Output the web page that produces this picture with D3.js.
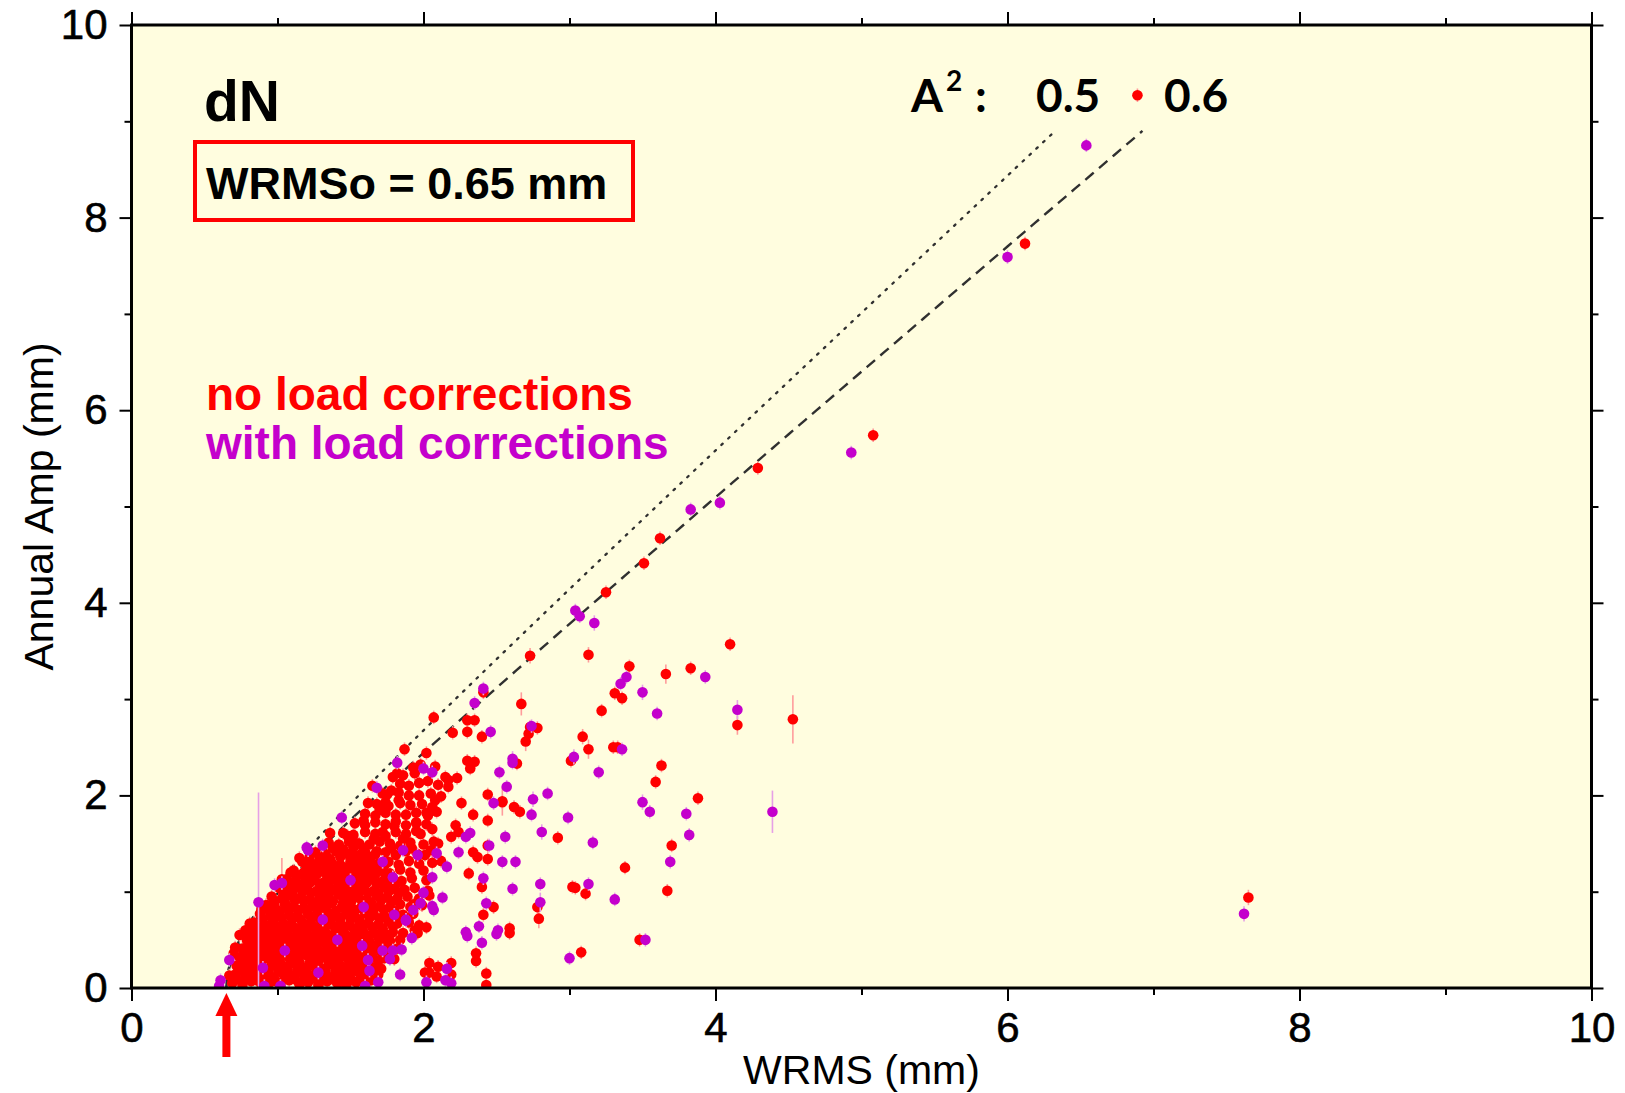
<!DOCTYPE html>
<html>
<head>
<meta charset="utf-8">
<script src="https://cdn.jsdelivr.net/npm/d3@7"></script>
<style>
  body { margin: 0; background: #fff; }
  svg { display: block; }
  .tick text { font-family: "Liberation Sans", Arial, sans-serif; }
</style>
</head>
<body>
<div id="chart"></div>
<script>
// Axis ticks
var majorTicks = [0, 2, 4, 6, 8, 10];
var minorTicks = [1, 3, 5, 7, 9];

// Model curves  WRMS^2 = WRMSo^2 + A^2 * Amp^2
var wrms0 = 0.65;
var a2Values = [0.5, 0.6];
var curveTopAmp = 8.9;

// [WRMS, annual amp, error] (error omitted = small)
var noLoad = [
  [6.89,9.27],[6.12,7.73],[5.08,5.74],[4.29,5.40],[3.62,4.67],[3.51,4.41],[3.25,4.11],
  [2.73,3.45,0.08],[3.13,3.46,0.08],[4.10,3.57],[3.41,3.34],[3.31,3.06],[3.36,3.01],
  [3.66,3.26,0.1],[3.83,3.32],[3.22,2.88],[2.67,2.95,0.12],[4.15,2.73,0.1],[4.53,2.79,0.25],
  [2.78,2.70],[2.72,2.64],[2.70,2.56,0.1],[3.09,2.61,0.08],[3.13,2.48,0.1],[3.30,2.50],[3.33,2.50],
  [3.01,2.36],[2.64,2.33],[3.63,2.31],[3.59,2.14],[2.54,1.94,0.15],[2.62,1.88],[2.66,1.83],
  [2.92,1.56],[3.88,1.97],[3.70,1.48],[3.38,1.25],[3.67,1.01],[2.79,0.72,0.1],[3.04,1.04],[3.11,0.98],
  [3.48,0.50],[2.59,0.62],[3.08,0.37],[7.65,0.94,0.08],[2.41,3.07],[2.07,2.81],[2.73,2.71],
  [2.30,2.78],[2.35,2.78],[2.20,2.65],[2.30,2.66],[2.40,2.61],[1.87,2.48],[2.02,2.44],
  [2.30,2.36],[2.35,2.35],[2.32,2.28],[2.15,2.19],[2.17,2.16],[2.23,2.18],[2.17,2.09],
  [1.93,2.29],[1.94,2.23],[1.82,2.23],[1.79,2.19],[1.86,2.21],[2.44,2.01],[2.54,1.93],
  [2.34,1.80],[2.26,1.92],[2.44,1.74],[2.22,1.69],[2.24,1.62],[2.19,1.57],[2.44,1.48],
  [2.34,1.41],[2.37,1.36],[2.44,1.34],[2.31,1.19],[2.40,1.05],[2.48,0.84],[2.41,0.76],
  [2.36,0.36],[2.43,0.15],[2.10,0.22],[2.04,0.26],[2.04,0.16],[2.19,0.26],[2.78,0.84],
  [3.02,1.05],[2.36,0.28],[2.59,0.57],[2.01,0.16],[2.09,0.12],[2.43,0.03],[2.19,0.14],
  [1.96,0.57],[2.02,0.63],[1.93,0.87],
  [1.62,1.92],[1.72,2.02],[1.74,1.93],[1.59,1.74],[1.36,1.61],[1.22,1.36],[1.15,1.35],
  [1.09,1.20],[1.03,1.13,0.22],[0.93,0.86],[0.89,0.82],[0.81,0.67],[0.78,0.60],[0.74,0.55],
  [0.71,0.42],[0.70,0.36],[0.67,0.13],
  [1.65,2.10],[1.70,1.85],[1.78,2.05],[1.83,1.95],[1.90,2.10],[1.97,2.00],[2.03,2.15],
  [2.08,1.95],[1.88,1.80],[1.95,1.72],[2.02,1.82],[1.80,1.68],[1.72,1.62],[1.66,1.55],
  [1.86,1.55],[1.98,1.60],[2.06,1.65],[2.10,1.50],[1.92,1.45],[1.78,1.45],[2.01,1.38],
  [2.12,1.32],[1.68,1.42],[1.55,1.50],[1.48,1.58],[1.45,1.42],[1.58,1.40],
  // upper part of the cloud
  [1.45,1.61],[1.52,1.59],[1.60,1.62],[1.67,1.60],[1.74,1.58],[1.81,1.62],[1.88,1.60],[1.95,1.63],
  [1.53,1.71],[1.60,1.69],[1.67,1.72],[1.74,1.70],[1.81,1.73],[1.88,1.69],[1.95,1.71],[2.02,1.70],
  [1.60,1.81],[1.67,1.79],[1.74,1.82],[1.81,1.80],[1.95,1.82],[2.03,1.79],[2.09,1.83],
  [1.68,1.91],[1.76,1.89],[1.84,1.92],[1.91,1.90],[1.99,1.91],[2.06,1.88],
  [1.75,2.01],[1.83,2.03],[1.90,2.00],[2.05,2.02],[2.12,1.99],
  [1.84,2.12],[1.97,2.13],[2.10,2.11],[1.98,2.32],[2.08,2.30],
  [1.67,1.39],[1.74,1.41],[1.81,1.38],[1.88,1.42],[1.96,1.39],[2.05,1.43],
  [1.63,1.49],[1.70,1.52],[1.77,1.50],[1.84,1.48],[1.91,1.51],[2.00,1.49],[2.07,1.52],
  [1.76,1.31],[1.83,1.28],[1.90,1.32],[1.97,1.29],[2.06,1.30],
  [1.84,1.23],[1.91,1.20],[2.00,1.22],[1.85,1.11],[1.92,1.14],[2.02,1.12],
  [1.94,1.04],[2.03,1.01],[1.89,0.95],[1.97,0.93],[2.04,0.96],[1.91,0.84],[1.99,0.86],
  [1.93,0.77],[1.90,0.68],[1.97,0.65],[1.86,0.57],[1.94,0.60],[1.84,0.50],[1.82,0.41],[1.80,0.30],
  // dense cloud
  [0.69,0.05],[0.76,0.03],[0.82,0.07],[0.89,0.04],[0.95,0.06],[1.02,0.03],[1.08,0.08],[1.15,0.04],
  [1.21,0.06],[1.28,0.03],[1.34,0.07],[1.41,0.05],[1.47,0.03],[1.54,0.06],[1.60,0.04],
  [0.71,0.14],[0.78,0.12],[0.84,0.16],[0.91,0.13],[0.97,0.11],[1.04,0.15],[1.10,0.13],[1.17,0.16],
  [1.23,0.12],[1.30,0.14],[1.36,0.11],[1.43,0.15],[1.49,0.13],[1.56,0.16],[1.62,0.12],[1.69,0.14],
  [0.72,0.23],[0.79,0.21],[0.86,0.24],[0.92,0.20],[0.99,0.23],[1.05,0.22],[1.12,0.25],[1.18,0.21],
  [1.25,0.23],[1.31,0.20],[1.38,0.24],[1.44,0.22],[1.51,0.21],[1.57,0.25],[1.64,0.22],[1.71,0.20],
  [0.74,0.32],[0.81,0.30],[0.87,0.33],[0.94,0.31],[1.00,0.29],[1.07,0.33],[1.13,0.31],[1.20,0.34],
  [1.26,0.30],[1.33,0.32],[1.39,0.29],[1.46,0.33],[1.52,0.31],[1.59,0.30],[1.65,0.33],[1.73,0.31],
  [0.76,0.41],[0.83,0.39],[0.89,0.42],[0.96,0.40],[1.02,0.38],[1.09,0.41],[1.15,0.40],[1.22,0.43],
  [1.28,0.39],[1.35,0.41],[1.41,0.38],[1.48,0.42],[1.54,0.40],[1.61,0.39],[1.67,0.42],[1.75,0.40],
  [0.79,0.50],[0.85,0.48],[0.92,0.51],[0.98,0.49],[1.05,0.47],[1.11,0.50],[1.18,0.49],[1.24,0.52],
  [1.31,0.48],[1.37,0.50],[1.44,0.47],[1.50,0.51],[1.57,0.49],[1.63,0.48],[1.70,0.51],[1.77,0.49],
  [0.81,0.59],[0.88,0.57],[0.94,0.60],[1.01,0.58],[1.07,0.56],[1.14,0.59],[1.20,0.58],[1.27,0.61],
  [1.33,0.57],[1.40,0.59],[1.46,0.56],[1.53,0.60],[1.59,0.58],[1.66,0.57],[1.72,0.60],[1.79,0.58],
  [0.84,0.68],[0.91,0.66],[0.97,0.69],[1.04,0.67],[1.10,0.65],[1.17,0.68],[1.23,0.67],[1.30,0.70],
  [1.36,0.66],[1.43,0.68],[1.49,0.65],[1.56,0.69],[1.62,0.67],[1.69,0.66],[1.76,0.69],[1.82,0.67],
  [0.88,0.77],[0.95,0.75],[1.01,0.78],[1.08,0.76],[1.14,0.74],[1.21,0.77],[1.27,0.76],[1.34,0.79],
  [1.40,0.75],[1.47,0.77],[1.53,0.74],[1.60,0.78],[1.66,0.76],[1.73,0.75],[1.80,0.78],[1.86,0.76],
  [0.92,0.86],[0.98,0.84],[1.05,0.87],[1.11,0.85],[1.18,0.83],[1.24,0.86],[1.31,0.85],[1.37,0.88],
  [1.44,0.84],[1.50,0.86],[1.57,0.83],[1.63,0.87],[1.70,0.85],[1.77,0.84],[1.84,0.87],
  [0.96,0.95],[1.03,0.93],[1.09,0.96],[1.16,0.94],[1.22,0.92],[1.29,0.95],[1.35,0.94],[1.42,0.97],
  [1.48,0.93],[1.55,0.95],[1.61,0.92],[1.68,0.96],[1.75,0.94],[1.82,0.93],
  [1.01,1.04],[1.07,1.02],[1.14,1.05],[1.20,1.03],[1.27,1.01],[1.33,1.04],[1.40,1.03],[1.46,1.06],
  [1.53,1.02],[1.59,1.04],[1.66,1.01],[1.73,1.05],[1.80,1.03],[1.87,1.02],
  [1.06,1.13],[1.12,1.11],[1.19,1.14],[1.25,1.12],[1.32,1.10],[1.38,1.13],[1.45,1.12],[1.51,1.15],
  [1.58,1.11],[1.64,1.13],[1.71,1.10],[1.78,1.14],
  [1.11,1.22],[1.18,1.20],[1.24,1.23],[1.31,1.21],[1.37,1.19],[1.44,1.22],[1.50,1.21],[1.57,1.24],
  [1.63,1.20],[1.70,1.22],[1.77,1.19],
  [1.17,1.31],[1.24,1.29],[1.30,1.32],[1.37,1.30],[1.43,1.28],[1.50,1.31],[1.56,1.30],[1.63,1.33],[1.69,1.29],
  [1.26,1.41],[1.33,1.39],[1.40,1.42],[1.47,1.40],[1.53,1.38],[1.60,1.41],
  [1.35,1.51],[1.42,1.49],[1.49,1.52],[1.56,1.50],
  // dense cloud, in-between
  [0.72,0.09],[0.79,0.10],[0.86,0.08],[0.92,0.09],[0.99,0.07],[1.05,0.10],[1.12,0.09],[1.18,0.08],
  [1.25,0.10],[1.31,0.08],[1.38,0.09],[1.44,0.10],[1.51,0.08],[1.57,0.09],[1.64,0.08],
  [0.75,0.18],[0.81,0.17],[0.88,0.19],[0.94,0.18],[1.01,0.17],[1.07,0.19],[1.14,0.18],[1.20,0.17],
  [1.27,0.19],[1.33,0.18],[1.40,0.17],[1.46,0.19],[1.53,0.18],[1.59,0.17],[1.66,0.19],
  [0.76,0.27],[0.83,0.26],[0.89,0.28],[0.96,0.27],[1.02,0.26],[1.09,0.28],[1.15,0.27],[1.22,0.26],
  [1.28,0.28],[1.35,0.27],[1.42,0.26],[1.49,0.28],[1.55,0.27],[1.62,0.26],[1.69,0.28],
  [0.78,0.36],[0.85,0.35],[0.91,0.37],[0.98,0.36],[1.04,0.35],[1.11,0.37],[1.17,0.36],[1.24,0.35],
  [1.30,0.37],[1.37,0.36],[1.44,0.35],[1.50,0.37],[1.57,0.36],[1.64,0.35],[1.71,0.37],
  [0.80,0.45],[0.87,0.44],[0.93,0.46],[1.00,0.45],[1.06,0.44],[1.13,0.46],[1.19,0.45],[1.26,0.44],
  [1.33,0.46],[1.40,0.45],[1.46,0.44],[1.53,0.46],[1.60,0.45],[1.66,0.44],[1.73,0.46],
  [0.83,0.54],[0.90,0.53],[0.96,0.55],[1.03,0.54],[1.09,0.53],[1.16,0.55],[1.22,0.54],[1.29,0.53],
  [1.35,0.55],[1.42,0.54],[1.49,0.53],[1.55,0.55],[1.62,0.54],[1.69,0.53],[1.75,0.55],
  [0.86,0.63],[0.93,0.62],[0.99,0.64],[1.06,0.63],[1.12,0.62],[1.19,0.64],[1.25,0.63],[1.32,0.62],
  [1.39,0.64],[1.45,0.63],[1.52,0.62],[1.58,0.64],[1.65,0.63],[1.72,0.62],[1.79,0.64],
  [0.90,0.72],[0.97,0.71],[1.03,0.73],[1.10,0.72],[1.16,0.71],[1.23,0.73],[1.29,0.72],[1.36,0.71],
  [1.43,0.73],[1.50,0.72],[1.56,0.71],[1.63,0.73],[1.70,0.72],[1.76,0.71],[1.83,0.73],
  [0.94,0.81],[1.01,0.80],[1.07,0.82],[1.14,0.81],[1.20,0.80],[1.27,0.82],[1.33,0.81],[1.40,0.80],
  [1.47,0.82],[1.53,0.81],[1.60,0.80],[1.66,0.82],[1.73,0.81],[1.80,0.80],
  [0.98,0.90],[1.05,0.89],[1.12,0.91],[1.18,0.90],[1.25,0.89],[1.31,0.91],[1.38,0.90],[1.45,0.89],
  [1.51,0.91],[1.58,0.90],[1.64,0.89],[1.71,0.91],[1.78,0.90],
  [1.04,0.99],[1.10,0.98],[1.17,1.00],[1.23,0.99],[1.30,0.98],[1.36,1.00],[1.43,0.99],[1.49,0.98],
  [1.56,1.00],[1.62,0.99],[1.69,0.98],[1.76,1.00],[1.83,0.99],
  [1.09,1.08],[1.16,1.07],[1.22,1.09],[1.29,1.08],[1.35,1.07],[1.42,1.09],[1.48,1.08],[1.55,1.07],
  [1.61,1.09],[1.68,1.08],[1.75,1.07],[1.82,1.09],
  [1.14,1.17],[1.21,1.16],[1.27,1.18],[1.34,1.17],[1.40,1.16],[1.47,1.18],[1.54,1.17],[1.60,1.16],
  [1.67,1.18],[1.74,1.17],
  [1.20,1.26],[1.27,1.25],[1.34,1.27],[1.40,1.26],[1.47,1.25],[1.53,1.27],[1.60,1.26],[1.66,1.25],[1.73,1.27],
  [1.29,1.35],[1.36,1.34],[1.43,1.36],[1.50,1.35],[1.57,1.34],[1.64,1.36],
  [1.38,1.45],[1.45,1.44],[1.52,1.46],[1.59,1.45]
];

var withLoad = [
  [6.54,8.75],[6.00,7.59],[4.93,5.56],[4.03,5.04],[3.83,4.97],[3.04,3.92],[3.07,3.86],[3.17,3.79,0.08],
  [2.41,3.11],[2.35,2.96],[3.39,3.23],[3.35,3.16],[3.93,3.23],[3.50,3.07,0.08],[3.60,2.85],[4.15,2.89,0.1],
  [2.74,2.72],[3.36,2.48],[3.03,2.40,0.08],[2.61,2.38,0.08],[2.61,2.34],[3.20,2.24],[2.52,2.24],
  [2.57,2.09],[2.75,1.96,0.08],[2.85,2.02],[2.74,1.80],[2.99,1.77],[2.81,1.62,0.08],[2.56,1.57],
  [3.16,1.51],[3.50,1.93,0.08],[3.55,1.83],[3.80,1.81],[3.82,1.59],[4.39,1.83,0.22],[3.69,1.31],
  [2.54,1.31],[2.63,1.31],[2.61,1.03],[2.80,0.89,0.1],[3.13,1.08],[3.31,0.92],[3.52,0.50],
  [7.62,0.77,0.08],[3.00,0.31],[2.46,2.66],[2.06,2.24],[2.00,2.28],[1.82,2.34],[2.48,1.92],
  [2.32,1.61],[2.29,1.57],[2.45,1.48],[2.24,1.41],[2.41,1.14],[2.43,0.88],[2.51,0.60],[2.38,0.64],
  [2.40,0.47],[2.16,0.20],[2.02,0.06],[2.19,0.05],[2.29,0.58],[2.30,0.54],[2.50,0.56],[2.80,1.08],
  [1.68,2.08],[1.44,1.77],[1.31,1.48],[1.21,1.43],[0.98,1.07],[1.03,1.09],[0.87,0.89,1.14],
  [0.67,0.29],[0.61,0.08],[0.60,0.02],[0.91,0.02],[1.02,0.02],[1.60,0.02],[1.69,0.06],[1.84,0.14],
  [1.63,0.18],[2.15,0.08],[1.77,0.30],[1.85,0.40],[1.92,0.52],[1.80,0.76],[1.88,0.70],[1.58,0.44],
  [2.06,0.85],[2.16,1.26],[2.13,0.94],[2.00,0.99],[1.93,0.81],[1.88,0.71],[1.72,0.39],[1.62,0.29],
  [1.79,0.39],[2.07,0.81],[2.09,1.40],[1.96,1.38],[1.86,1.43],[1.72,1.31],[1.79,1.15],[2.06,1.15],
  [1.98,0.88],[1.20,1.46],[1.50,1.12],[1.41,0.50],[0.90,0.21],[1.05,0.39],[1.28,0.16],[1.59,0.84],
  [1.31,0.71]
];

var w = 1625, h = 1093;
var x0 = 131.5, x1 = 1591.5, y0 = 988, y1 = 25;

var svg = d3.select("#chart").append("svg")
  .attr("width", w).attr("height", h);

var x = d3.scaleLinear().domain([0, 10]).range([x0, x1]);
var y = d3.scaleLinear().domain([0, 10]).range([y0, y1]);

// plot background
svg.append("rect")
  .attr("x", x0).attr("y", y1)
  .attr("width", x1 - x0).attr("height", y0 - y1)
  .attr("fill", "#fffddf");

svg.append("clipPath").attr("id", "plotClip")
  .append("rect")
  .attr("x", x0).attr("y", y1)
  .attr("width", x1 - x0).attr("height", y0 - y1);

var plot = svg.append("g").attr("clip-path", "url(#plotClip)");

// model curves
var curve = d3.line()
  .x(function(d) { return x(d[0]); })
  .y(function(d) { return y(d[1]); });

var amps = d3.range(0, curveTopAmp + 0.001, 0.05);
var curveStyles = [
  {dash: "1.8,7.6", width: 2.3, cap: "round"},
  {dash: "11,7", width: 2.4, cap: "butt"}
];

a2Values.forEach(function(a2, i) {
  var pts = amps.map(function(a) {
    return [Math.sqrt(wrms0 * wrms0 + a2 * a * a), a];
  });
  plot.append("path")
    .attr("d", curve(pts))
    .attr("fill", "none")
    .attr("stroke", "#303030")
    .attr("stroke-width", curveStyles[i].width)
    .attr("stroke-linecap", curveStyles[i].cap)
    .attr("stroke-dasharray", curveStyles[i].dash);
});

// points with error bars
function drawSeries(data, color, barColor) {
  var g = plot.append("g");
  g.selectAll("line")
    .data(data)
    .enter().append("line")
    .attr("x1", function(d) { return x(d[0]); })
    .attr("x2", function(d) { return x(d[0]); })
    .attr("y1", function(d) { return y(d[1] - (d[2] || 0.07)); })
    .attr("y2", function(d) { return y(d[1] + (d[2] || 0.07)); })
    .attr("stroke", barColor)
    .attr("stroke-width", 1.6);
  g.selectAll("circle")
    .data(data)
    .enter().append("circle")
    .attr("cx", function(d) { return x(d[0]); })
    .attr("cy", function(d) { return y(d[1]); })
    .attr("r", 5.3)
    .attr("fill", color);
}
drawSeries(noLoad, "#ff0000", "#ff9c9c");
drawSeries(withLoad, "#c400cc", "#e6a0e6");

// frame
svg.append("rect")
  .attr("x", x0).attr("y", y1)
  .attr("width", x1 - x0).attr("height", y0 - y1)
  .attr("fill", "none").attr("stroke", "#000").attr("stroke-width", 3);

// axes
function styleAxis(g) {
  g.select(".domain").remove();
  g.selectAll(".tick line").attr("stroke", "#000").attr("stroke-width", 2);
  g.selectAll(".tick text").attr("font-size", 42).attr("fill", "#000")
    .attr("stroke", "#000").attr("stroke-width", 0.6);
}

svg.append("g").attr("transform", "translate(0," + y0 + ")")
  .call(d3.axisBottom(x).tickValues(majorTicks).tickSize(13).tickPadding(11).tickFormat(d3.format("d")))
  .call(styleAxis);
svg.append("g").attr("transform", "translate(0," + y0 + ")")
  .call(d3.axisBottom(x).tickValues(minorTicks).tickSize(7).tickFormat(""))
  .call(styleAxis);
svg.append("g").attr("transform", "translate(" + x0 + ",0)")
  .call(d3.axisLeft(y).tickValues(majorTicks).tickSize(12).tickPadding(12).tickFormat(d3.format("d")))
  .call(styleAxis);
svg.append("g").attr("transform", "translate(" + x0 + ",0)")
  .call(d3.axisLeft(y).tickValues(minorTicks).tickSize(7).tickFormat(""))
  .call(styleAxis);
svg.append("g").attr("transform", "translate(0," + y1 + ")")
  .call(d3.axisTop(x).tickValues(majorTicks).tickSize(13).tickFormat(""))
  .call(styleAxis);
svg.append("g").attr("transform", "translate(0," + y1 + ")")
  .call(d3.axisTop(x).tickValues(minorTicks).tickSize(7).tickFormat(""))
  .call(styleAxis);
svg.append("g").attr("transform", "translate(" + x1 + ",0)")
  .call(d3.axisRight(y).tickValues(majorTicks).tickSize(12).tickFormat(""))
  .call(styleAxis);
svg.append("g").attr("transform", "translate(" + x1 + ",0)")
  .call(d3.axisRight(y).tickValues(minorTicks).tickSize(7).tickFormat(""))
  .call(styleAxis);

// axis titles
svg.append("text")
  .text("WRMS (mm)")
  .attr("x", (x0 + x1) / 2).attr("y", 1084)
  .attr("text-anchor", "middle")
  .attr("font-family", "Liberation Sans, Arial, sans-serif")
  .attr("font-size", 41);

svg.append("text")
  .text("Annual Amp (mm)")
  .attr("transform", "translate(53," + ((y0 + y1) / 2) + ") rotate(-90)")
  .attr("text-anchor", "middle")
  .attr("font-family", "Liberation Sans, Arial, sans-serif")
  .attr("font-size", 41);

// annotations
svg.append("text")
  .text("dN")
  .attr("x", 204).attr("y", 121)
  .attr("font-family", "Liberation Sans, Arial, sans-serif")
  .attr("font-weight", "bold")
  .attr("font-size", 57);

svg.append("rect")
  .attr("x", 195).attr("y", 142)
  .attr("width", 438).attr("height", 78)
  .attr("fill", "none").attr("stroke", "#ff0000").attr("stroke-width", 4);

svg.append("text")
  .text("WRMSo = 0.65 mm")
  .attr("x", 206).attr("y", 199)
  .attr("font-family", "Liberation Sans, Arial, sans-serif")
  .attr("font-weight", "bold")
  .attr("font-size", 45);

svg.append("text")
  .text("no load corrections")
  .attr("x", 206).attr("y", 410)
  .attr("fill", "#ff0000")
  .attr("font-family", "Liberation Sans, Arial, sans-serif")
  .attr("font-weight", "bold")
  .attr("font-size", 46);

svg.append("text")
  .text("with load corrections")
  .attr("x", 206).attr("y", 459)
  .attr("fill", "#c400cc")
  .attr("font-family", "Liberation Sans, Arial, sans-serif")
  .attr("font-weight", "bold")
  .attr("font-size", 46);

// A^2 labels
var a2Label = svg.append("g")
  .attr("font-family", "Lato, 'Open Sans', sans-serif")
  .attr("font-weight", "bold")
  .attr("fill", "#000");
a2Label.append("text").text("A").attr("x", 911).attr("y", 112).attr("font-size", 46);
a2Label.append("text").text("2").attr("x", 946).attr("y", 91).attr("font-size", 28);
a2Label.append("text").text(":").attr("x", 975).attr("y", 112).attr("font-size", 46);
a2Label.selectAll(".a2v")
  .data(a2Values)
  .enter().append("text")
  .attr("class", "a2v")
  .text(function(d) { return d; })
  .attr("x", function(d, i) { return [1036, 1164][i]; })
  .attr("y", 112)
  .attr("font-size", 46);

// WRMSo arrow
var ax = x(wrms0);
svg.append("rect")
  .attr("x", ax - 4).attr("y", 1014)
  .attr("width", 8).attr("height", 43)
  .attr("fill", "#ff0000");
svg.append("path")
  .attr("d", "M" + (ax - 11) + ",1016L" + (ax + 11) + ",1016L" + ax + ",993Z")
  .attr("fill", "#ff0000");
</script>
</body>
</html>
